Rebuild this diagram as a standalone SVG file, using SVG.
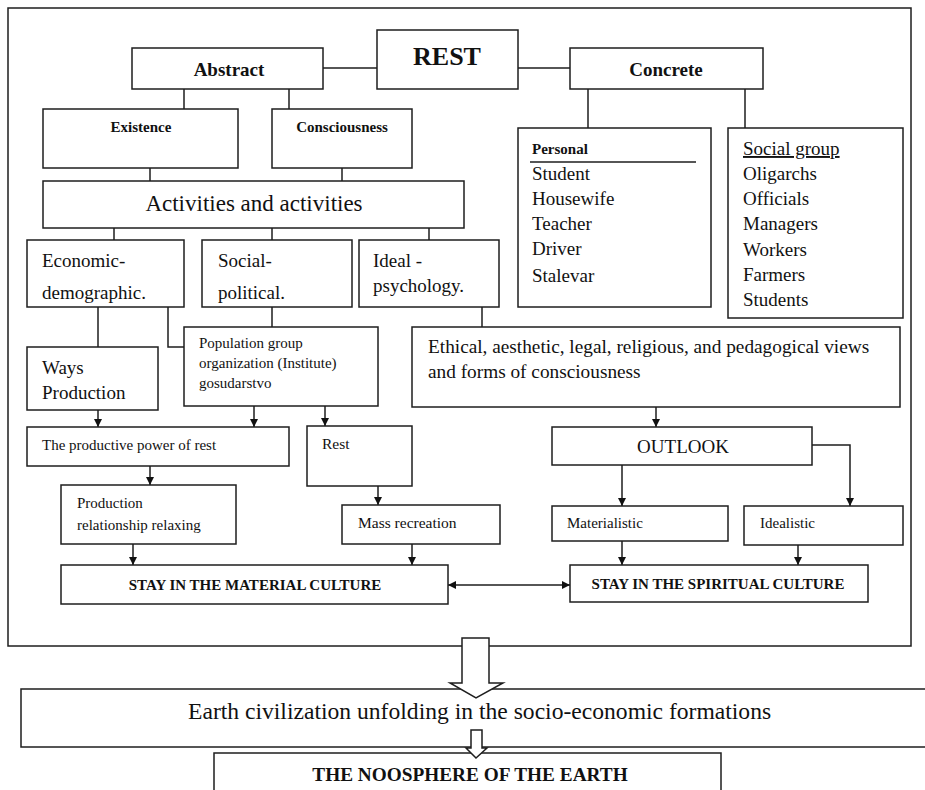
<svg xmlns="http://www.w3.org/2000/svg" width="925" height="790" viewBox="0 0 925 790" font-family="'Liberation Serif', 'DejaVu Serif', serif">
<style>
rect.b{fill:#fff;stroke:#1e1e1e;stroke-width:1.5}
.ln{fill:none;stroke:#1e1e1e;stroke-width:1.5}
.ar{fill:none;stroke:#1e1e1e;stroke-width:1.5;marker-end:url(#ah)}
text{font-family:'Liberation Serif','DejaVu Serif',serif;fill:#111}
.bd{font-weight:bold}
.hol{fill:#fff;stroke:#1e1e1e;stroke-width:1.5}
</style>
<defs>
<marker id="ah" viewBox="0 0 10 10" refX="10" refY="5" markerWidth="8" markerHeight="9" orient="auto" markerUnits="userSpaceOnUse">
<path d="M0,0 L10,5 L0,10 z" fill="#111"/>
</marker>
<marker id="ahs" viewBox="0 0 10 10" refX="0" refY="5" markerWidth="8" markerHeight="9" orient="auto" markerUnits="userSpaceOnUse">
<path d="M10,0 L0,5 L10,10 z" fill="#111"/>
</marker>
<clipPath id="cEco"><rect x="27" y="240" width="157" height="66"/></clipPath>
<clipPath id="cSoc"><rect x="202" y="240" width="150" height="66"/></clipPath>
</defs>
<rect width="925" height="790" fill="#fff"/>

<g id="frame"><rect class="b" x="8" y="8" width="903" height="638"/></g>

<g id="connectors">
<line class="ln" x1="323" y1="68" x2="377" y2="68"/>
<line class="ln" x1="518" y1="68" x2="570" y2="68"/>
<line class="ln" x1="184" y1="89" x2="184" y2="109"/>
<line class="ln" x1="289" y1="89" x2="289" y2="109"/>
<line class="ln" x1="588" y1="89" x2="588" y2="128"/>
<line class="ln" x1="745" y1="89" x2="745" y2="128"/>
<line class="ln" x1="150" y1="168" x2="150" y2="188"/>
<line class="ln" x1="342" y1="168" x2="342" y2="188"/>
<line class="ln" x1="114" y1="228" x2="114" y2="247"/>
<line class="ln" x1="272" y1="228" x2="272" y2="247"/>
<line class="ln" x1="429" y1="228" x2="429" y2="247"/>
<line class="ln" x1="98" y1="307" x2="98" y2="347"/>
<polyline class="ln" points="168,307 168,347 184,347"/>
<line class="ln" x1="272" y1="307" x2="272" y2="327"/>
<line class="ln" x1="482" y1="307" x2="482" y2="327"/>
<line class="ar" x1="98" y1="410" x2="98" y2="427"/>
<line class="ar" x1="254" y1="406" x2="254" y2="427"/>
<line class="ar" x1="325" y1="406" x2="325" y2="426"/>
<line class="ar" x1="656" y1="407" x2="656" y2="427"/>
<line class="ar" x1="150" y1="466" x2="150" y2="485"/>
<line class="ar" x1="378" y1="486" x2="378" y2="505"/>
<line class="ar" x1="622" y1="465" x2="622" y2="506"/>
<polyline class="ar" points="812,445 850,445 850,506"/>
<line class="ar" x1="133" y1="544" x2="133" y2="565"/>
<line class="ar" x1="412" y1="544" x2="412" y2="565"/>
<line class="ar" x1="622" y1="541" x2="622" y2="565"/>
<line class="ar" x1="798" y1="545" x2="798" y2="565"/>
<line class="ln" x1="448" y1="585" x2="570" y2="585" marker-start="url(#ahs)" marker-end="url(#ah)"/>
</g>

<g id="rest"><rect class="b" x="377" y="30" width="141" height="59"/><text class="bd" x="447" y="65" font-size="26" text-anchor="middle">REST</text></g>
<g id="abstract"><rect class="b" x="132" y="48" width="191" height="41"/><text class="bd" x="229" y="76" font-size="19" text-anchor="middle">Abstract</text></g>
<g id="concrete"><rect class="b" x="570" y="48" width="193" height="41"/><text class="bd" x="666" y="76" font-size="19" text-anchor="middle">Concrete</text></g>
<g id="existence"><rect class="b" x="43" y="109" width="195" height="59"/><text class="bd" x="141" y="132" font-size="15" text-anchor="middle">Existence</text></g>
<g id="consciousness"><rect class="b" x="272" y="109" width="140" height="59"/><text class="bd" x="342" y="132" font-size="15" text-anchor="middle">Consciousness</text></g>
<g id="activities"><rect class="b" x="43" y="181" width="421" height="47"/><text x="254" y="211" font-size="23" text-anchor="middle">Activities and activities</text></g>

<g id="personal"><rect class="b" x="518" y="128" width="193" height="179"/>
<text class="bd" x="532" y="154" font-size="15">Personal</text>
<line class="ln" x1="530" y1="162" x2="696" y2="162"/>
<text font-size="19"><tspan x="532" y="180">Student</tspan><tspan x="532" y="205">Housewife</tspan><tspan x="532" y="230">Teacher</tspan><tspan x="532" y="255">Driver</tspan><tspan x="532" y="282">Stalevar</tspan></text>
</g>
<g id="socialgroup"><rect class="b" x="728" y="128" width="175" height="190"/>
<text font-size="19"><tspan x="743" y="155" text-decoration="underline">Social group</tspan><tspan x="743" y="180">Oligarchs</tspan><tspan x="743" y="205">Officials</tspan><tspan x="743" y="230">Managers</tspan><tspan x="743" y="256">Workers</tspan><tspan x="743" y="281">Farmers</tspan><tspan x="743" y="306">Students</tspan></text>
</g>

<g id="economic"><rect class="b" x="27" y="240" width="157" height="67"/><text font-size="19" clip-path="url(#cEco)"><tspan x="42" y="267">Economic-</tspan><tspan x="42" y="299">demographic.</tspan></text></g>
<g id="socialpolitical"><rect class="b" x="202" y="240" width="150" height="67"/><text font-size="19" clip-path="url(#cSoc)"><tspan x="218" y="267">Social-</tspan><tspan x="218" y="299">political.</tspan></text></g>
<g id="ideal"><rect class="b" x="359" y="240" width="140" height="67"/><text font-size="19"><tspan x="373" y="267">Ideal -</tspan><tspan x="373" y="292">psychology.</tspan></text></g>

<g id="ways"><rect class="b" x="27" y="347" width="131" height="63"/><text font-size="19"><tspan x="42" y="374">Ways</tspan><tspan x="42" y="399">Production</tspan></text></g>
<g id="population"><rect class="b" x="184" y="327" width="194" height="79"/><text font-size="15"><tspan x="199" y="348">Population group</tspan><tspan x="199" y="368">organization (Institute)</tspan><tspan x="199" y="388">gosudarstvo</tspan></text></g>
<g id="ethical"><rect class="b" x="412" y="327" width="488" height="80"/><text font-size="19.3"><tspan x="428" y="353">Ethical, aesthetic, legal, religious, and pedagogical views</tspan><tspan x="428" y="378">and forms of consciousness</tspan></text></g>

<g id="productive"><rect class="b" x="27" y="427" width="262" height="39"/><text x="42" y="450" font-size="15">The productive power of rest</text></g>
<g id="restbox"><rect class="b" x="307" y="426" width="105" height="60"/><text x="322" y="449" font-size="15.5">Rest</text></g>
<g id="outlook"><rect class="b" x="552" y="427" width="260" height="38"/><text x="683" y="453" font-size="19" text-anchor="middle">OUTLOOK</text></g>

<g id="prodrel"><rect class="b" x="61" y="485" width="175" height="59"/><text font-size="15"><tspan x="77" y="508">Production</tspan><tspan x="77" y="530">relationship relaxing</tspan></text></g>
<g id="mass"><rect class="b" x="342" y="505" width="158" height="39"/><text x="358" y="528" font-size="15.5">Mass recreation</text></g>
<g id="materialistic"><rect class="b" x="552" y="506" width="176" height="35"/><text x="567" y="528" font-size="15">Materialistic</text></g>
<g id="idealistic"><rect class="b" x="744" y="506" width="159" height="39"/><text x="760" y="528" font-size="15">Idealistic</text></g>

<g id="material"><rect class="b" x="61" y="565" width="387" height="39"/><text class="bd" x="255" y="590" font-size="15" text-anchor="middle">STAY IN THE MATERIAL CULTURE</text></g>
<g id="spiritual"><rect class="b" x="570" y="565" width="298" height="37"/><text class="bd" x="718" y="589" font-size="15" text-anchor="middle">STAY IN THE SPIRITUAL CULTURE</text></g>

<g id="earth"><rect class="b" x="21" y="689" width="912" height="58"/><text x="188" y="719" font-size="23.6">Earth civilization unfolding in the socio-economic formations</text></g>
<g id="noosphere"><rect class="b" x="214" y="753" width="507" height="50"/><text class="bd" x="470" y="781" font-size="19.3" text-anchor="middle">THE NOOSPHERE OF THE EARTH</text></g>

<g id="flow-arrows">
<polygon class="hol" points="462,638 489,638 489,683 503,683 476,698 450,683 462,683"/>
<polygon class="hol" points="471,730 482,730 482,748 487,748 476,758 466,748 471,748"/>
</g>
</svg>
